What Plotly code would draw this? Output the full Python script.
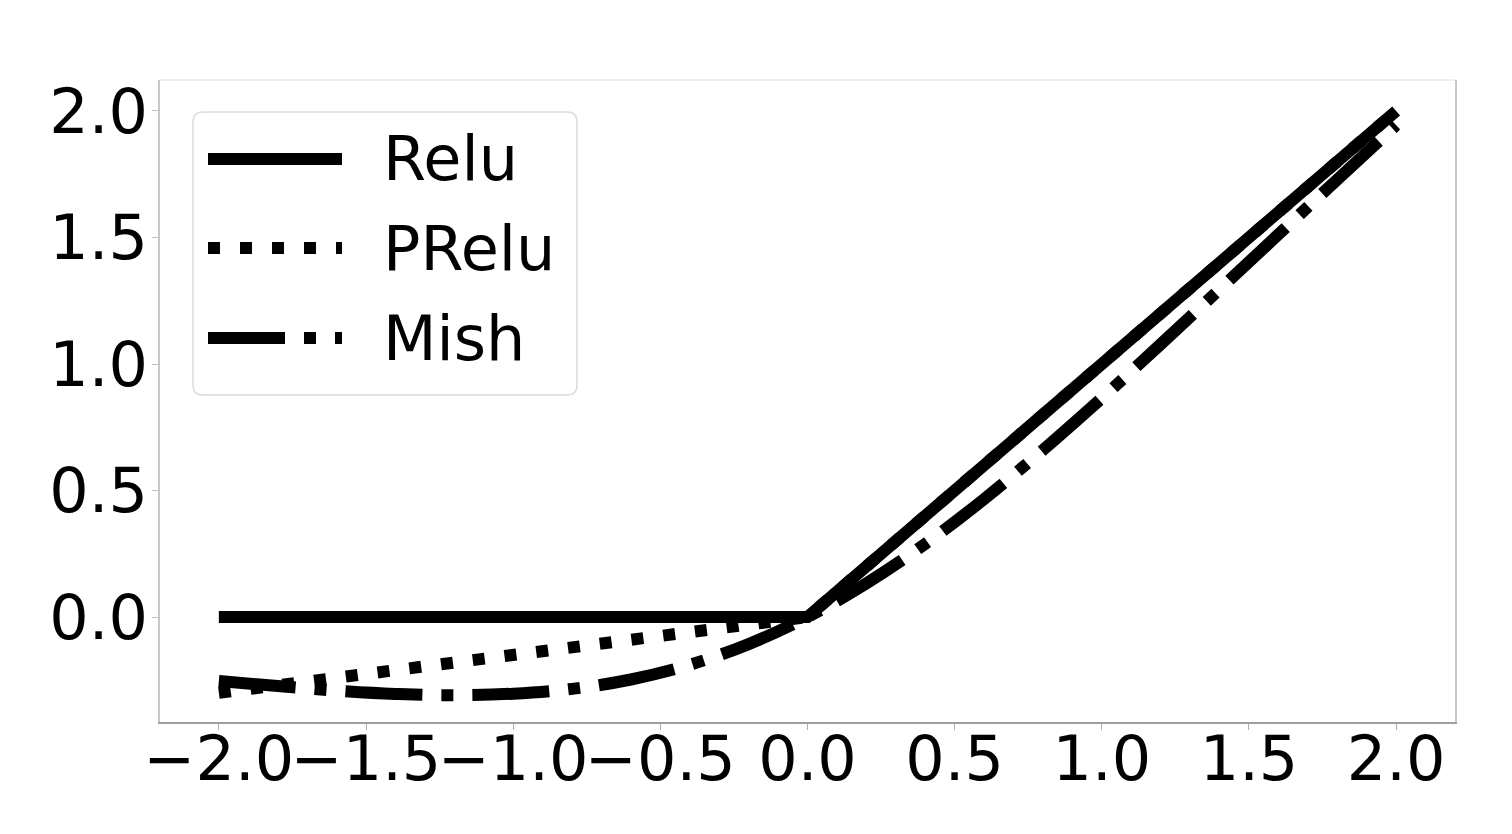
import plotly.graph_objects as go

# ---- data ----
relu_x = [-2.0, 0.0, 2.0]
relu_y = [0.0, 0.0, 2.0]

prelu_x = [-2.0, 0.0, 2.0]
prelu_y = [-0.30, 0.0, 2.0]

mish_x = [-2.0, -1.8, -1.6, -1.4, -1.2, -1.0, -0.8, -0.6, -0.4, -0.2, 0.0,
          0.2, 0.4, 0.6, 0.8, 1.0, 1.2, 1.4, 1.6, 1.8, 2.0]
mish_y = [-0.253, -0.273, -0.291, -0.304, -0.309, -0.303, -0.284, -0.247, -0.189, -0.107, 0.0,
          0.133, 0.289, 0.466, 0.660, 0.865, 1.078, 1.295, 1.512, 1.729, 1.944]

series_names = ["Relu", "PRelu", "Mish"]
x_ticks = [-2.0, -1.5, -1.0, -0.5, 0.0, 0.5, 1.0, 1.5, 2.0]
y_ticks = [0.0, 0.5, 1.0, 1.5, 2.0]

# ---- styles ----
LW = 12
DASHES = {"Relu": "solid", "PRelu": "12px,20px", "Mish": "77px,19px,12px,19px"}
FONT = "DejaVu Sans"
OFF = 8  # page body margin
W, H = 1512, 834
# target plot area in screenshot pixels: x 160..1455, y 80..722
ML, MT = 160 - OFF, 80 - OFF
MR = OFF + W - 1455
MB = OFF + H - 722
PW, PH = 1455 - 160, 722 - 80


def px2paper(px, py):
    return (px - 160) / PW, (722 - py) / PH


fig = go.Figure()
for name, xs, ys in [("Relu", relu_x, relu_y), ("PRelu", prelu_x, prelu_y), ("Mish", mish_x, mish_y)]:
    fig.add_trace(go.Scatter(x=xs, y=ys, mode="lines", name=name, showlegend=False,
                             line=dict(color="black", width=LW, dash=DASHES[name],
                                       shape="spline" if name == "Mish" else "linear")))

shapes = []
annotations = []

# top border of axes box
shapes.append(dict(type="line", xref="paper", yref="paper", x0=0, x1=1, y0=1, y1=1,
                   line=dict(color="#dddddd", width=1)))

# legend frame with rounded corners
bx0, by0, bx1, by1 = 193, 112, 577, 395
r = 10


def P(px, py):
    a, b = px2paper(px, py)
    return f"{a:.5f},{b:.5f}"


path = (f"M{P(bx0 + r, by0)} L{P(bx1 - r, by0)} Q{P(bx1, by0)} {P(bx1, by0 + r)} "
        f"L{P(bx1, by1 - r)} Q{P(bx1, by1)} {P(bx1 - r, by1)} "
        f"L{P(bx0 + r, by1)} Q{P(bx0, by1)} {P(bx0, by1 - r)} "
        f"L{P(bx0, by0 + r)} Q{P(bx0, by0)} {P(bx0 + r, by0)} Z")
shapes.append(dict(type="path", xref="paper", yref="paper", path=path,
                   fillcolor="rgba(255,255,255,0.85)", line=dict(color="#dcdcdc", width=1.5)))

row_y = [159, 248, 338]
for name, ry in zip(series_names, row_y):
    x0, y0 = px2paper(208, ry)
    x1, _ = px2paper(342, ry)
    shapes.append(dict(type="line", xref="paper", yref="paper", x0=x0, x1=x1, y0=y0, y1=y0,
                       line=dict(color="black", width=LW, dash=DASHES[name])))
    tx, ty = px2paper(381, ry)
    annotations.append(dict(text=name, xref="paper", yref="paper", x=tx, y=ty,
                            xanchor="left", yanchor="middle", showarrow=False,
                            font=dict(family=FONT, size=62, color="black")))

fig.update_layout(
    width=W, height=H,
    margin=dict(l=ML, r=MR, t=MT, b=MB, pad=0),
    paper_bgcolor="white", plot_bgcolor="white",
    shapes=shapes, annotations=annotations,
    font=dict(family=FONT, size=62, color="black"),
)
fig.update_xaxes(range=[-2.2, 2.2], tickvals=x_ticks, ticktext=[f"{v:.1f}".replace("-", "\u2212") for v in x_ticks],
                 tickangle=0, showgrid=False, zeroline=False, showline=True, linecolor="#a0a0a0",
                 linewidth=1.5, ticks="outside", ticklen=6, tickcolor="#b0b0b0", mirror=False,
                 ticklabelstandoff=-24,
                 tickfont=dict(family=FONT, size=62, color="black"))
fig.update_yaxes(range=[-0.415, 2.1225], tickvals=y_ticks, ticktext=[f"{v:.1f}" for v in y_ticks],
                 showgrid=False, zeroline=False, showline=True, linecolor="#c8c8c8",
                 linewidth=1.5, ticks="outside", ticklen=6, tickcolor="#c0c0c0", mirror=True,
                 ticklabelstandoff=-8,
                 tickfont=dict(family=FONT, size=62, color="black"))

fig.write_html("out.html")
